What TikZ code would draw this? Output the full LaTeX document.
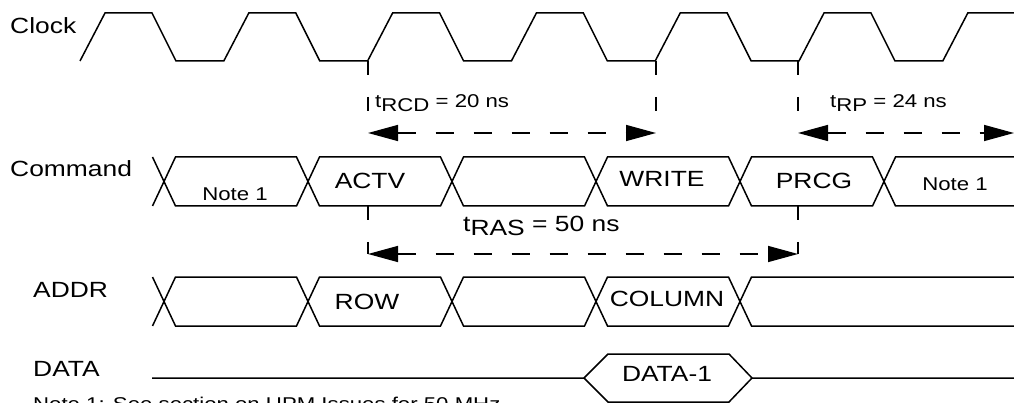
\documentclass[tikz,border=0pt]{standalone}
\usepackage{fontspec}
\setmainfont{Liberation Sans}[FakeStretch=1.2]
\usetikzlibrary{arrows.meta}

\newcommand{\tsub}[1]{t\raisebox{-3.5pt}{#1}}

\tikzset{
  wave/.style={line width=1.5pt},
  guide/.style={line width=1.5pt, dash pattern=on 14pt off 22pt},
  span/.style={
    line width=1.5pt,
    dash pattern=on 18pt off 20pt,
    {Triangle[length=30pt,width=16pt]}-{Triangle[length=30pt,width=16pt]}
  },
  biglabel/.style={font=\fontsize{22}{26}\selectfont, inner sep=0pt},
  smalllabel/.style={font=\fontsize{18.5}{22}\selectfont, inner sep=0pt}
}

\begin{document}
\begin{tikzpicture}[x=1pt,y=-1pt]
\useasboundingbox (0,0) rectangle (1014,403);

\draw[wave] (80,61)
  foreach \k in {0,...,5} { -- ++(25,-48) -- ++(47,0) -- ++(24,48) -- ++(47.8,0) }
  -- ++(25,-48) -- (1014,13);

\draw[wave] (152.5,157) -- (164,181.5) -- (152.5,206);
\foreach \a/\b in {164/308,308/452,452/596,596/740,740/884}
  \draw[wave] (\a,181.5) -- (\a+11.5,157) -- (\b-11.5,157) -- (\b,181.5)
    -- (\b-11.5,206) -- (\a+11.5,206) -- cycle;
\draw[wave] (1014,157) -- (895.5,157) -- (884,181.5) -- (895.5,206) -- (1014,206);

\draw[wave] (152.5,277) -- (164,301.5) -- (152.5,326);
\foreach \a/\b in {164/308,308/452,452/596,596/740}
  \draw[wave] (\a,301.5) -- (\a+11.5,277) -- (\b-11.5,277) -- (\b,301.5)
    -- (\b-11.5,326) -- (\a+11.5,326) -- cycle;
\draw[wave] (1014,277) -- (751.5,277) -- (740,301.5) -- (751.5,326) -- (1014,326);

\draw[wave] (152,378) -- (584,378) -- (608,354) -- (729,354) -- (752,378) -- (1014,378);
\draw[wave] (584,378) -- (608,402) -- (729,402) -- (752,378);

\coordinate (clk-3) at (368,61);
\coordinate (clk-5) at (656,61);
\coordinate (clk-6) at (798,61);
\coordinate (rcd-start) at (368,133);
\coordinate (rcd-end) at (656,133);
\coordinate (rp-start) at (798,133);
\coordinate (rp-end) at (1014,133);
\coordinate (actv-foot) at (368,206);
\coordinate (prcg-foot) at (798,206);
\coordinate (ras-start) at (368,254);
\coordinate (ras-end) at (798,254);

\draw[guide] (clk-3) -- (rcd-start);
\draw[guide] (clk-5) -- (rcd-end);
\draw[guide] (clk-6) -- (rp-start);
\draw[guide] (actv-foot) -- (ras-start);
\draw[guide] (prcg-foot) -- (ras-end);
\draw[span] (rcd-start) -- (rcd-end);
\draw[span] (rp-start) -- (rp-end);
\draw[span] (ras-start) -- (ras-end);

\node[biglabel, anchor=base west] (clock) at (10,33.3) {Clock};
\node[biglabel, anchor=base west] (command) at (10,176.7) {Command};
\node[biglabel, anchor=base west] (addr) at (33,298) {ADDR};
\node[biglabel, anchor=base west] (data) at (33,376.7) {DATA};

\node[smalllabel, anchor=base west] (trcd) at (375,107.7) {\tsub{RCD} = 20 ns};
\node[smalllabel, anchor=base west] (trp) at (830,107.7) {\tsub{RP} = 24 ns};
\node[biglabel, anchor=base west] (tras) at (463,231.7) {\tsub{RAS} = 50 ns};

\node[smalllabel] (note-a) at (235,194.5) {Note 1};
\node[biglabel] (actv) at (370,181) {ACTV};
\node[biglabel] (write) at (662,178.5) {WRITE};
\node[biglabel] (prcg) at (814,181) {PRCG};
\node[smalllabel] (note-b) at (955,184) {Note 1};

\node[biglabel] (row) at (367,301.7) {ROW};
\node[biglabel] (column) at (667,299) {COLUMN};
\node[biglabel] (data-1) at (667,374) {DATA-1};

\node[smalllabel, anchor=base west] (footnote) at (33,410.6) {Note 1: See section on UPM Issues for 50 MHz};
\end{tikzpicture}
\end{document}
